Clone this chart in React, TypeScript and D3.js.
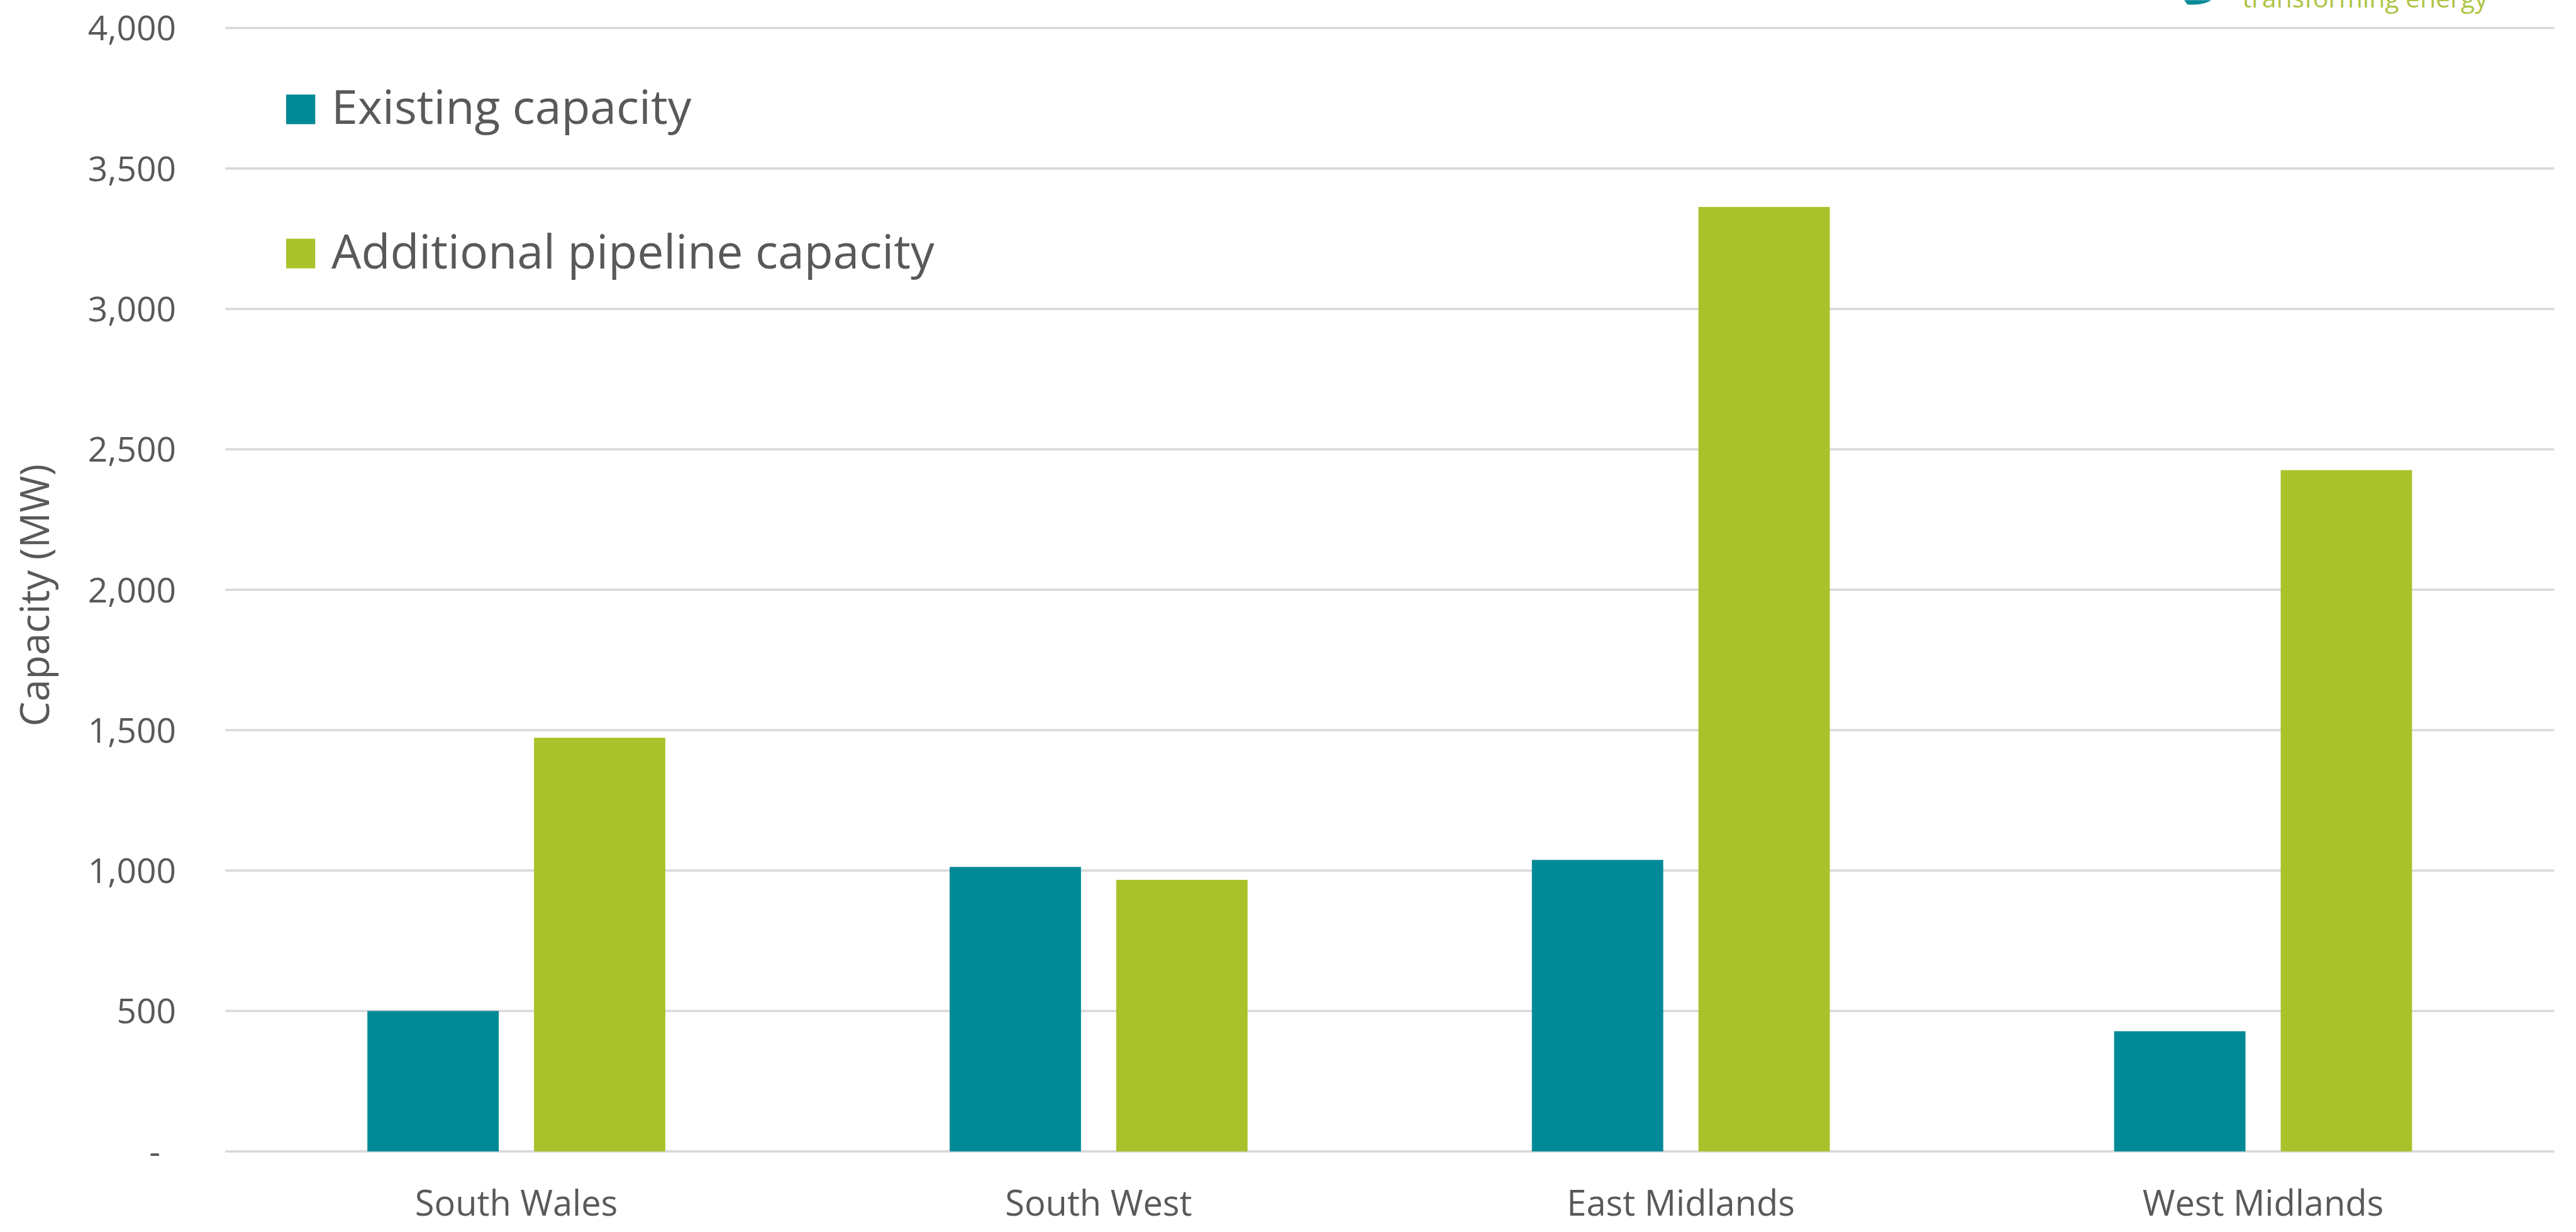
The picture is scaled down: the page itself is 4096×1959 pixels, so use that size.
import React from "react";
import * as d3 from "d3";

const categories = ["South Wales", "South West", "East Midlands", "West Midlands"];
const existingCapacity = [500, 1013, 1038, 428];
const additionalCapacity = [1473, 967, 3363, 2426];
const seriesNames = ["Existing capacity", "Additional pipeline capacity"];
const yTicks = [0, 500, 1000, 1500, 2000, 2500, 3000, 3500, 4000];
const logoText = "transforming energy";

const REF_W = 4609;
const REF_H = 2204;
const OUT_W = 4096;
const OUT_H = 1959;

const TEAL = "#008996";
const GREEN = "#a9c22b";
const TEXT = "#595959";
const GRID = "#d9d9d9";
const FONT = "'Open Sans', 'Noto Sans', sans-serif";

export default function App() {
  const plotLeft = 403;
  const plotRight = 4570;
  const plotBottom = 2060;
  const plotTop = 50;

  const x = d3.scaleBand<string>().domain(categories).range([plotLeft, plotRight]).padding(0);
  const y = d3.scaleLinear().domain([0, 4000]).range([plotBottom, plotTop]);
  const bw = x.bandwidth();
  const barW = bw * 0.2256;
  const innerGap = bw * 0.0605;
  const fmt = d3.format(",");

  const series = [
    { name: seriesNames[0], values: existingCapacity, color: TEAL, offset: -innerGap / 2 - barW },
    { name: seriesNames[1], values: additionalCapacity, color: GREEN, offset: innerGap / 2 },
  ];

  return (
    <div style={{ position: "fixed", left: 0, top: 0, width: OUT_W, height: OUT_H, background: "#fff" }}>
      <svg width={OUT_W} height={OUT_H} viewBox={`0 0 ${REF_W} ${REF_H}`} style={{ display: "block" }}>
        <rect x={0} y={0} width={REF_W} height={REF_H} fill="#ffffff" />
        {/* gridlines */}
        {yTicks.map((t) => (
          <line key={"g" + t} x1={plotLeft} x2={plotRight} y1={y(t)} y2={y(t)} stroke={GRID} strokeWidth={4} />
        ))}
        {/* y tick labels */}
        {yTicks.map((t) => (
          <text
            key={"t" + t}
            x={t === 0 ? 287 : 315}
            y={y(t)}
            dy="0.36em"
            textAnchor="end"
            fontFamily={FONT}
            fontSize={62}
            fill={TEXT}
          >
            {t === 0 ? "-" : fmt(t)}
          </text>
        ))}
        {/* bars */}
        {series.map((s) =>
          categories.map((c, i) => {
            const cx = (x(c) as number) + bw / 2;
            return (
              <rect
                key={s.name + c}
                x={cx + s.offset}
                y={y(s.values[i])}
                width={barW}
                height={y(0) - y(s.values[i])}
                fill={s.color}
              />
            );
          })
        )}
        {/* category labels */}
        {categories.map((c) => (
          <text
            key={"c" + c}
            x={(x(c) as number) + bw / 2}
            y={2175}
            textAnchor="middle"
            fontFamily={FONT}
            fontSize={63}
            fill={TEXT}
          >
            {c}
          </text>
        ))}
        {/* y axis title */}
        <text
          transform={`translate(88, ${1065}) rotate(-90)`}
          textAnchor="middle"
          fontFamily={FONT}
          fontSize={71}
          fill={TEXT}
        >
          Capacity (MW)
        </text>
        {/* legend */}
        {series.map((s, i) => {
          const base = i === 0 ? 222 : 480;
          return (
            <g key={"l" + s.name}>
              <rect x={512} y={base - 53} width={52} height={53} fill={s.color} />
              <text x={593} y={base} fontFamily={FONT} fontSize={84.5} fill={TEXT}>
                {s.name}
              </text>
            </g>
          );
        })}
        {/* cropped logo at top right */}
        <path d="M3908,0 L3956,0 C3950,5 3935,9 3914,8 Z" fill={TEAL} />
        <text x={4012} y={13} fontFamily={FONT} fontSize={46} fill="#aec443">
          {logoText}
        </text>
      </svg>
    </div>
  );
}
